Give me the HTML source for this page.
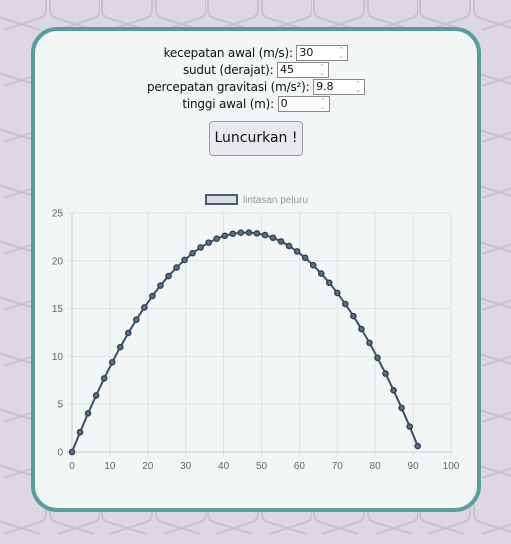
<!DOCTYPE html>
<html><head><meta charset="utf-8"><style>
html,body{margin:0;padding:0;width:511px;height:544px;overflow:hidden;background:#ddd7e3;font-family:"DejaVu Sans","Liberation Sans",sans-serif}
#bg{position:absolute;left:0;top:0}
.card{position:absolute;left:31px;top:27px;width:442px;height:477px;border:4px solid #5a9e9c;border-radius:26px;background:#f2f6f7}
.row{position:absolute;left:0;width:100%;text-align:center;font-size:12px;letter-spacing:-0.2px;color:#111;height:17px;line-height:17px}
.inp{display:inline-block;vertical-align:middle;height:14px;border:1px solid #888;background:#fff;font-size:11px;line-height:14px;text-align:left;padding-left:2px;position:relative;box-sizing:content-box;margin-top:-2px;letter-spacing:0}
.inp span.sp{position:absolute;right:3px;top:1px;font-size:7px;color:#999;line-height:6px}
.btn{position:absolute;left:174px;top:90px;width:92px;height:33px;border:1px solid #999;border-radius:4px;background:#e9e9ed;font-size:14px;line-height:33px;text-align:center;color:#111}
</style></head><body>
<svg id="bg" width="511" height="544">
<defs><pattern id="pt" width="106" height="56" patternUnits="userSpaceOnUse" x="-6" y="-20">
<path d="M2 6 L2 30 Q2 36 8 38 L46 50 M52 6 L52 30 Q52 36 46 38 L10 50 M56 6 L56 30 Q56 36 62 38 L100 50 M106 6 L106 30 Q106 36 100 38 L64 50" stroke="#c8c0cf" stroke-width="2" fill="none"/>
</pattern></defs>
<rect width="511" height="544" fill="url(#pt)"/>
</svg>
<div class="card">
<div class="row" style="top:14px">kecepatan awal (m/s): <span class="inp" style="width:48px">30<span class="sp">⌃<br>⌄</span></span></div>
<div class="row" style="top:31px">sudut (derajat): <span class="inp" style="width:48px">45<span class="sp">⌃<br>⌄</span></span></div>
<div class="row" style="top:48px">percepatan gravitasi (m/s²): <span class="inp" style="width:48px">9.8<span class="sp">⌃<br>⌄</span></span></div>
<div class="row" style="top:65px">tinggi awal (m): <span class="inp" style="width:48px">0<span class="sp">⌃<br>⌄</span></span></div>
<div class="btn">Luncurkan !</div>
</div>
<svg id="chart" width="511" height="544" style="position:absolute;left:0;top:0"></svg>
<script>
const xTicks=[0,10,20,30,40,50,60,70,80,90,100];
const yTicks=[0,5,10,15,20,25];
const xVals=[0,2.12,4.24,6.36,8.49,10.61,12.73,14.85,16.97,19.09,21.21,23.33,25.46,27.58,29.70,31.82,33.94,36.06,38.18,40.31,42.43,44.55,46.67,48.79,50.91,53.03,55.15,57.28,59.40,61.52,63.64,65.76,67.88,70.00,72.12,74.25,76.37,78.49,80.61,82.73,84.85,86.97,89.10,91.22];
const yVals=[0,2.07,4.05,5.92,7.70,9.38,10.97,12.45,13.84,15.12,16.31,17.41,18.40,19.29,20.09,20.80,21.40,21.90,22.31,22.62,22.83,22.94,22.95,22.87,22.69,22.41,22.03,21.55,20.98,20.31,19.54,18.67,17.70,16.64,15.48,14.22,12.86,11.41,9.85,8.20,6.45,4.61,2.66,0.62];
const svg=document.getElementById('chart');const NS='http://www.w3.org/2000/svg';
const X=v=>72+v*(451-72)/100, Y=v=>452-v*(452-213)/25;
function mk(t,a,p){const e=document.createElementNS(NS,t);for(const k in a)e.setAttribute(k,a[k]);(p||svg).appendChild(e);return e;}
xTicks.forEach(t=>{const l=mk('line',{x1:X(t),x2:X(t),y1:213,y2:457,stroke:'#e0e3e5'});


const tx=mk('text',{x:X(t),y:469,'text-anchor':'middle','font-size':'10','fill':'#666','font-family':'Liberation Sans, sans-serif'});tx.textContent=t;

});
yTicks.forEach(t=>{const l=mk('line',{x1:67,x2:451,y1:Y(t),y2:Y(t),stroke:'#e0e3e5'});


const tx=mk('text',{x:63,y:Y(t)+3.5,'text-anchor':'end','font-size':'10','fill':'#666','font-family':'Liberation Sans, sans-serif'});tx.textContent=t;

});
mk('line',{x1:72,x2:72,y1:213,y2:457,stroke:'#ccc'});mk('line',{x1:67,x2:451,y1:452,y2:452,stroke:'#ccc'});
const lg=mk('rect',{x:206,y:195,width:31,height:9,fill:'#dcdee0',stroke:'#4a5b6e','stroke-width':2});


const lt=mk('text',{x:243,y:203,'font-size':'10','fill':'#999','font-family':'Liberation Sans, sans-serif'});lt.textContent='lintasan peluru';


const ln=mk('polyline',{points:xVals.map((x,i)=>X(x)+','+Y(yVals[i])).join(' '),fill:'none',stroke:'#3e4f63','stroke-width':2});


xVals.forEach((x,i)=>{const c=mk('circle',{cx:X(x),cy:Y(yVals[i]),r:2.6,fill:'#5f7083',stroke:'#2f4156','stroke-width':1.4});

});
</script>
</body></html>
